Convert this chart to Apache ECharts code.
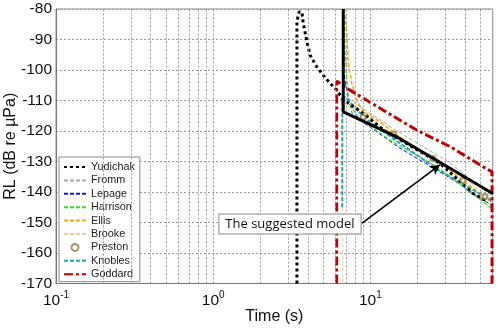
<!DOCTYPE html>
<html>
<head>
<meta charset="utf-8">
<script src="https://cdn.jsdelivr.net/npm/echarts@6/dist/echarts.min.js"></script>
<style>
  html, body { margin: 0; padding: 0; background: #fff; }
  #chart { width: 500px; height: 329px; }
</style>
</head>
<body>
<div id="chart"></div>
<script>
// Received level (dB re µPa) against time (s), one [time, level] list per model.
const yudichak = [[3.41,-170],[3.41,-84],[3.52,-81],[3.67,-81],[3.74,-84.7],[3.93,-90.2],[4.13,-95.1],[4.55,-98.9],[4.99,-101.6],[5.53,-104.3],[6.11,-106.6],[6.73,-109.8],[9.02,-114.2],[12.1,-119.7],[21.7,-127.3],[27.7,-130.6],[45,-140.5],[55,-143]];
const fromm = [[6.79,-80],[6.89,-104.9],[7.41,-109.8],[15.4,-120.6],[32.1,-130.4],[60,-141.6]];
const lepage = [[6.70,-80],[6.70,-100],[6.89,-103.3],[7.41,-111.5],[8.59,-116.4],[15.4,-125.6],[32.1,-135.4],[60,-144.6]];
const harrison = [[6.79,-80],[6.89,-93.4],[7.2,-108.2],[7.64,-114.1],[13.3,-123.0],[26.6,-131.8],[60,-145.6]];
const ellis = [[6.83,-80],[7.07,-88],[7.24,-97.8],[7.61,-104.4],[8.18,-109.8],[8.59,-112],[9.25,-114],[11.5,-117],[15.4,-122],[32.1,-133],[60,-143.6]];
const brooke = [[6.67,-170],[6.67,-109.8],[7.41,-112.5],[15.4,-122.3],[32.1,-132.1],[60,-142.6]];
const preston = [[9.0,-115.5],[14.0,-121.0],[25.0,-129.0],[38.8,-136.2],[53.6,-141.5]];
const knobles = [[6.62,-145],[6.62,-109.8],[6.89,-108.8],[9.5,-116.4],[15.4,-124.0],[27.7,-133.1],[60,-143.0]];
const goddard = [[6.10,-170],[6.10,-103.6],[7.41,-106.6],[12.0,-113.1],[19.7,-119.7],[32.1,-125.1],[52,-131.7],[59.4,-133.4],[59.4,-170]];
const suggestedModel = [[6.72,-80],[6.72,-113.7],[14.7,-121.9],[60,-140.5]];

// Log-axis grid positions (every integer multiple inside each decade)
const xGridValues = [0.2,0.3,0.4,0.5,0.6,0.7,0.8,0.9,1,2,3,4,5,6,7,8,9,10,20,30,40,50];
const yTicks = { min: -170, max: -80, step: 10 };
const xRange = { min: 0.1, max: 60 };

// Annotation: label anchor and arrow end, in data units
const noteText = 'The suggested model';
const noteAnchor = [3.08, -150.5];
const arrowFrom = [8.85, -150.2];
const arrowTo = [27.7, -131.1];

const legendNames = ['Yudichak','Fromm','Lepage','Harrison','Ellis','Brooke','Preston','Knobles','Goddard'];

const FONT = '"Liberation Sans", Arial, sans-serif';

function lineSeries(name, data, color, width, type, z) {
  return {
    name, type: 'line', data, symbol: 'none', z: z || 3,
    lineStyle: { color, width, type },
    itemStyle: { color },
    animation: false, silent: true
  };
}

const chart = echarts.init(document.getElementById('chart'), null, { renderer: 'canvas' });

// Line entries show only their stroke in the legend; Preston keeps its circle.
const hiddenSymbol = { color: 'rgba(0,0,0,0)', borderColor: 'rgba(0,0,0,0)', borderWidth: 0, opacity: 0 };
const legendData = legendNames.map(n => n === 'Preston' ? { name: n } : { name: n, itemStyle: hiddenSymbol });

const option = {
  animation: false,
  grid: {
    left: 56, right: 7.3, top: 9, bottom: 45.5,
    containLabel: false, outerBoundsMode: 'none',
    show: true, borderColor: '#8a8a8a', borderWidth: 1, backgroundColor: '#fff'
  },
  xAxis: {
    type: 'log', logBase: 10, min: xRange.min, max: xRange.max,
    name: 'Time (s)', nameLocation: 'middle', nameGap: 25, nameMoveOverlap: false,
    nameTextStyle: { fontFamily: FONT, fontSize: 16, color: '#111' },
    axisLine: { show: true, lineStyle: { color: '#777', width: 1 } },
    axisTick: { show: false },
    splitLine: { show: false },
    axisLabel: {
      margin: 7, showMaxLabel: false,
      formatter: function (v) {
        const e = Math.round(Math.log10(v));
        if (Math.abs(Math.log10(v) - e) > 1e-6) return '';
        return '{b|10}{s|' + e + '}';
      },
      rich: {
        b: { fontFamily: FONT, fontSize: 15.5, color: '#111', verticalAlign: 'bottom' },
        s: { fontFamily: FONT, fontSize: 10, color: '#111', verticalAlign: 'bottom', padding: [0, 0, 8, 0] }
      }
    }
  },
  yAxis: {
    type: 'value', min: yTicks.min, max: yTicks.max, interval: yTicks.step,
    name: 'RL (dB re µPa)', nameLocation: 'middle', nameGap: 37, nameRotate: 90, nameMoveOverlap: false,
    nameTextStyle: { fontFamily: FONT, fontSize: 16, color: '#111' },
    axisLine: { show: true, lineStyle: { color: '#777', width: 1 } },
    axisTick: { show: false },
    axisLabel: { margin: 4, fontFamily: FONT, fontSize: 15.5, color: '#111' },
    splitLine: { show: true, lineStyle: { color: '#9a9a9a', width: 1, type: [2, 2] } }
  },
  legend: {
    orient: 'vertical', left: 59, top: 157,
    backgroundColor: '#fff', borderColor: '#8a8a8a', borderWidth: 1,
    padding: [4.5, 5, 2, 4], itemGap: 2.4, itemWidth: 22, itemHeight: 7,
    textStyle: { fontFamily: FONT, fontSize: 10.8, color: '#222' },
    data: legendData
  },
  series: [
    {
      name: 'grid', type: 'line', data: [[1, -170]], z: 1, silent: true,
      symbol: 'none', lineStyle: { opacity: 0 },
      markLine: {
        silent: true, symbol: ['none', 'none'], label: { show: false },
        lineStyle: { color: '#9a9a9a', width: 1, type: [2, 2] },
        data: xGridValues.map(v => ({ xAxis: v }))
      }
    },
    lineSeries('Yudichak', yudichak, '#000', 3, [3, 3], 4),
    lineSeries('Fromm', fromm, '#a8a8a8', 1, [4, 2]),
    lineSeries('Lepage', lepage, '#1010ff', 1, [4, 2]),
    lineSeries('Harrison', harrison, '#2fe02f', 1.3, [4, 2]),
    lineSeries('Ellis', ellis, '#ffa500', 1.6, [4, 2]),
    lineSeries('Brooke', brooke, '#e8c89c', 1, [4, 2]),
    {
      name: 'Preston', type: 'scatter', data: preston, z: 5,
      symbol: 'emptyCircle', symbolSize: 5,
      itemStyle: { color: '#8c7a3c', borderColor: '#8c7a3c', borderWidth: 1 },
      animation: false, silent: true
    },
    lineSeries('Knobles', knobles, '#1faaaa', 2, [4, 2]),
    lineSeries('Goddard', goddard, '#c00000', 3, [9, 3, 3, 3], 4),
    Object.assign(lineSeries('Suggested model', suggestedModel, '#000', 3, 'solid', 6), {
      markLine: {
        silent: true, symbol: ['none', 'arrow'], symbolSize: [8, 10],
        label: { show: false },
        lineStyle: { color: '#000', width: 1.6, type: 'solid' },
        data: [[{ coord: arrowFrom }, { coord: arrowTo }]]
      },
      markPoint: {
        silent: true, symbol: 'rect', symbolSize: 0,
        label: {
          show: true, position: 'inside', formatter: noteText,
          fontFamily: '"Open Sans", "Liberation Sans", sans-serif', fontSize: 13, color: '#111',
          backgroundColor: '#fff', borderColor: '#888', borderWidth: 1,
          padding: [3, 6, 3, 6]
        },
        data: [{ coord: noteAnchor }]
      }
    })
  ]
};

chart.setOption(option);
</script>
</body>
</html>
